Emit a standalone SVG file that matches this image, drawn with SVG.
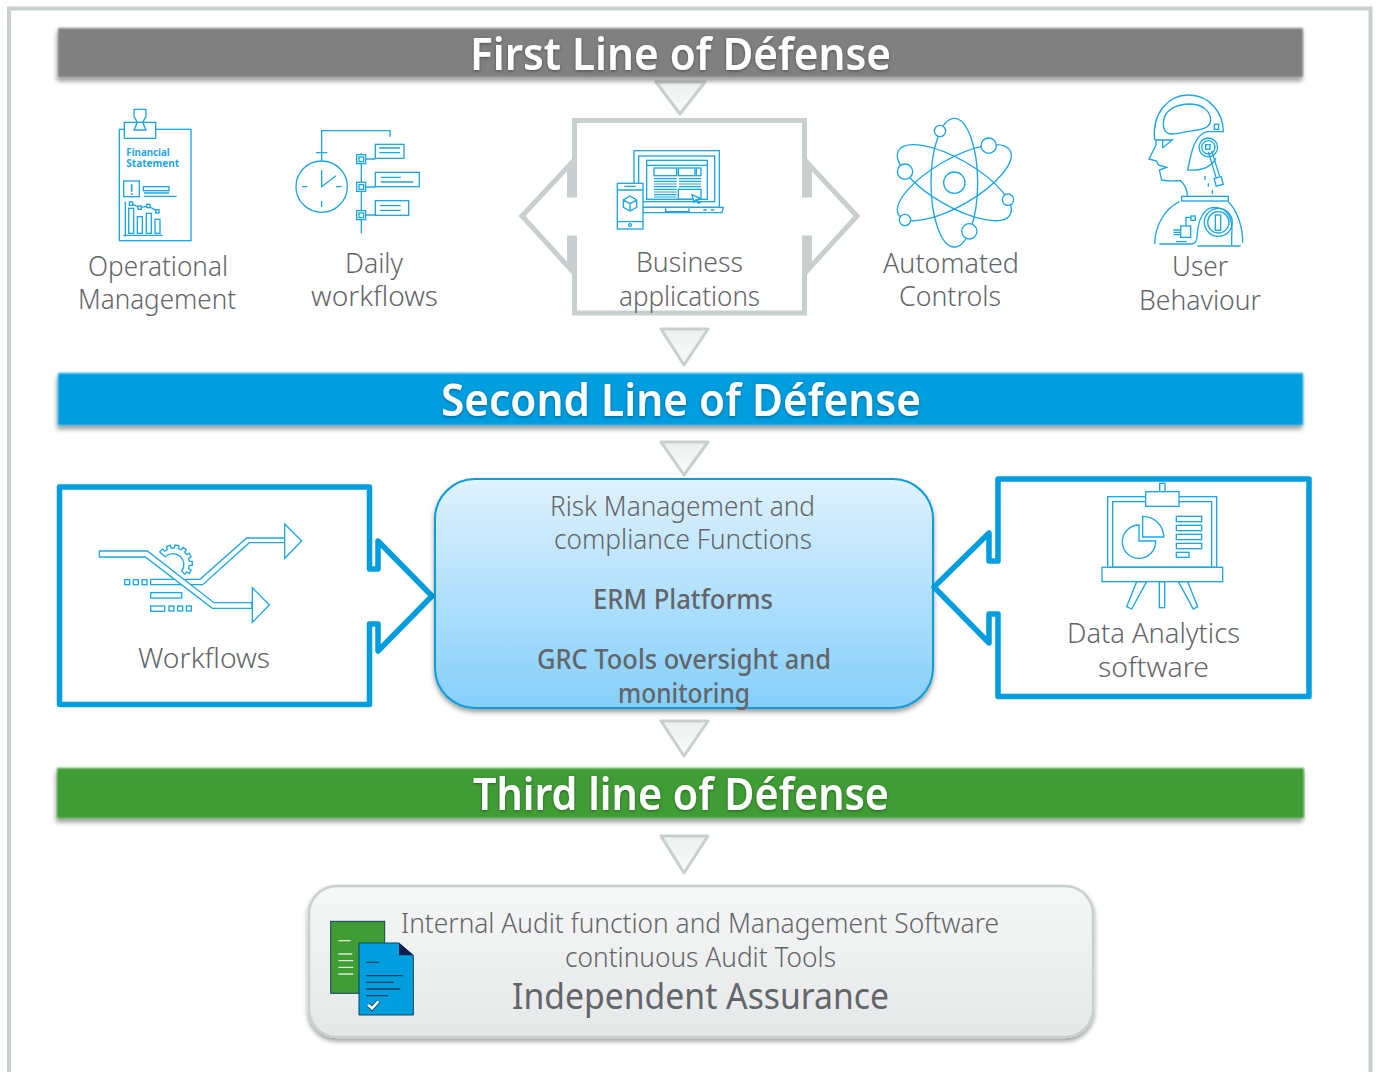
<svg xmlns="http://www.w3.org/2000/svg" width="1377" height="1072" viewBox="0 0 1377 1072">
<style>
text{font-family:"Noto Sans","Open Sans","Liberation Sans",sans-serif}
.lb{font-size:27px;font-weight:300;fill:#636569}
.lm{font-size:27px;font-weight:500;fill:#636569}
.tt{font-size:45px;font-weight:600;fill:#fff;filter:url(#ts)}
.bar{filter:url(#bs)}
.tri{fill:url(#tg);stroke:#c9cfcf;stroke-width:3;stroke-linejoin:round}
.ic{fill:none;stroke:#1ba6e4;stroke-width:4}
.icw{fill:#fff;stroke:#1ba6e4;stroke-width:4}
.bb{fill:#fff;stroke:#009ddf;stroke-width:5.500;stroke-linejoin:round}
</style>
<defs>
<filter id="sh" x="-5%" y="-30%" width="110%" height="160%"><feDropShadow dx="0" dy="3" stdDeviation="2.500" flood-color="#000" flood-opacity=".4"/></filter>
<filter id="bs" x="-3%" y="-30%" width="106%" height="170%">
<feGaussianBlur in="SourceAlpha" stdDeviation="2.500"/><feOffset dx="-1" dy="4" result="o"/>
<feFlood flood-color="#000" flood-opacity=".42"/><feComposite in2="o" operator="in" result="s"/>
<feGaussianBlur in="SourceGraphic" stdDeviation="1" result="b"/>
<feMerge><feMergeNode in="s"/><feMergeNode in="b"/></feMerge>
</filter>
<filter id="ts" x="-5%" y="-20%" width="110%" height="140%"><feDropShadow dx="0" dy="1" stdDeviation="1.500" flood-color="#000" flood-opacity=".4"/></filter>
<linearGradient id="tg" x1="0" y1="0" x2="0" y2="1"><stop offset="0" stop-color="#edf0f0"/><stop offset="1" stop-color="#fafbfb"/></linearGradient>
<linearGradient id="bg" x1="0" y1="0" x2="0" y2="1"><stop offset="0" stop-color="#dff2fe"/><stop offset="1" stop-color="#85cffb"/></linearGradient>
<linearGradient id="gg" x1="0" y1="0" x2="0" y2="1"><stop offset="0" stop-color="#f6f7f7"/><stop offset="1" stop-color="#e5e8e8"/></linearGradient>
</defs>
<rect width="1377" height="1072" fill="#fff"/>
<path d="M9,1072V8.500H1370.500V1072" fill="none" stroke="#c9cfcf" stroke-width="4"/>

<g id="connectors">
<path class="tri" d="M656,82H705L680,114Z"/>
<path class="tri" d="M661,329H708L684,365Z"/>
<path class="tri" d="M661,442H708L684,475Z"/>
<path class="tri" d="M661,721H708L684,756Z"/>
<path class="tri" d="M661,836H708L684,873Z"/>
</g>

<g id="first-line"><rect class="bar" x="58" y="28" width="1245" height="49" fill="#808080"/><text class="tt" x="470" y="70" textLength="421" lengthAdjust="spacingAndGlyphs">First Line of Défense</text></g>
<g id="second-line"><rect class="bar" x="58" y="373" width="1245" height="52" fill="#009ddf"/><text class="tt" x="441" y="416" textLength="480" lengthAdjust="spacingAndGlyphs">Second Line of Défense</text></g>
<g id="third-line"><rect class="bar" x="57" y="768" width="1247" height="50" fill="#409c34"/><text class="tt" x="473" y="810" textLength="416" lengthAdjust="spacingAndGlyphs">Third line of Défense</text></g>

<g id="operational-management">
<g transform="translate(60,90) scale(.33333)">
<rect class="ic" x="178" y="118" width="215" height="334"/>
<rect class="icw" x="193" y="97" width="94" height="48"/>
<path class="ic" d="M222,58H258V80L248,97L258,120H222L232,97L222,80Z"/>
<text x="199" y="198" font-size="30" font-weight="700" fill="#1ba6e4" textLength="130" lengthAdjust="spacingAndGlyphs">Financial</text>
<text x="199" y="232" font-size="30" font-weight="700" fill="#1ba6e4" textLength="158" lengthAdjust="spacingAndGlyphs">Statement</text>
<rect class="ic" x="191" y="273" width="47" height="47"/>
<path d="M215,283V305M215,309V314" fill="none" stroke="#1ba6e4" stroke-width="5"/>
<rect class="ic" x="250" y="290" width="77" height="12"/>
<path class="ic" d="M252,309H327M252,319H350M196,335V440M190,436H308"/>
<rect class="ic" x="206" y="355" width="15" height="75"/><rect class="ic" x="232" y="380" width="15" height="50"/><rect class="ic" x="259" y="370" width="15" height="60"/><rect class="ic" x="285" y="388" width="15" height="42"/>
<path class="ic" d="M213,341L239,353L265,348L292,364"/>
<rect class="icw" x="208" y="336" width="10" height="10"/><rect class="icw" x="234" y="348" width="10" height="10"/><rect class="icw" x="260" y="343" width="10" height="10"/><rect class="icw" x="287" y="359" width="10" height="10"/>
</g>
<text class="lb" x="88" y="276" textLength="140" lengthAdjust="spacingAndGlyphs">Operational</text>
<text class="lb" x="78" y="309" textLength="158" lengthAdjust="spacingAndGlyphs">Management</text>
</g>

<g id="daily-workflows">
<g transform="translate(60,90) scale(.33333)">
<path class="ic" d="M785,212V122H990V140M768,188H802"/>
<circle class="ic" cx="785" cy="290" r="77"/>
<path class="ic" d="M785,240V290L828,257M726,290H742M828,290H845M785,333V350M904,190V430M918,207H946M918,291H946M918,375H946"/>
<rect class="icw" x="890" y="194" width="27" height="27"/><rect class="ic" x="897" y="201" width="14" height="14"/>
<rect class="icw" x="890" y="277" width="27" height="27"/><rect class="ic" x="897" y="284" width="14" height="14"/>
<rect class="icw" x="890" y="362" width="27" height="27"/><rect class="ic" x="897" y="369" width="14" height="14"/>
<rect class="ic" x="946" y="163" width="86" height="42"/><path class="ic" d="M958,174H1020M958,188H1020"/>
<rect class="ic" x="946" y="247" width="132" height="43"/><path class="ic" d="M962,262H1022M962,276H1060"/>
<rect class="ic" x="946" y="332" width="100" height="44"/><path class="ic" d="M960,347H1022M960,361H1022"/>
</g>
<text class="lb" x="345" y="273" textLength="58" lengthAdjust="spacingAndGlyphs">Daily</text>
<text class="lb" x="311" y="306" textLength="127" lengthAdjust="spacingAndGlyphs">workflows</text>
</g>

<g id="business-applications">
<path d="M574.500,120.500H804.500V195H809.500V165L857,216L809.500,268V238H804.500V313H574.500V238H569.500V268L522,216L569.500,165V195H574.500Z" fill="#fff" stroke="#c9cfcf" stroke-width="5"/>
<g transform="translate(510,70) scale(.33333)">
<rect class="ic" x="372" y="242" width="256" height="170"/>
<rect class="ic" x="386" y="258" width="228" height="137"/>
<rect class="ic" x="410" y="271" width="182" height="117"/>
<path class="ic" d="M410,286H592"/>
<rect class="ic" x="432" y="294" width="68" height="23"/><rect class="ic" x="505" y="294" width="50" height="23"/><rect class="ic" x="559" y="294" width="14" height="23"/>
<path d="M432,326H500M432,334H500M432,342H500M432,350H500M432,358H500M432,366H500M432,374H500M432,381H500M507,326H573M507,334H573M507,342H573M507,350H573" fill="none" stroke="#1ba6e4" stroke-width="3.500"/>
<rect class="ic" x="505" y="358" width="68" height="30"/>
<path class="icw" d="M546,374L570,385L560,389L570,398L566,400L556,391L552,397Z"/>
<path class="icw" d="M398,412H640L636,428H398Z"/>
<path class="ic" d="M467,415V425H537V415M580,420H590M603,420H613"/>
<rect class="icw" x="322" y="340" width="77" height="137"/>
<path class="ic" d="M322,360H399M322,455H399M343,349H378"/>
<path class="ic" d="M360,378L380,390V412L360,423L340,412V390ZM340,390L360,401L380,390M360,401V423"/>
<circle class="ic" cx="360" cy="465" r="4"/>
</g>
<text class="lb" x="636" y="272" textLength="107" lengthAdjust="spacingAndGlyphs">Business</text>
<text class="lb" x="619" y="306" textLength="141" lengthAdjust="spacingAndGlyphs">applications</text>
</g>

<g id="automated-controls">
<g transform="translate(880,90) scale(.33333)">
<ellipse class="ic" cx="223" cy="278" rx="70" ry="193"/>
<ellipse class="ic" cx="223" cy="278" rx="70" ry="193" transform="rotate(60 223 278)"/>
<ellipse class="ic" cx="223" cy="278" rx="70" ry="193" transform="rotate(-60 223 278)"/>
<circle class="ic" cx="223" cy="278" r="32"/>
<circle class="icw" cx="180" cy="123" r="17"/><circle class="icw" cx="326" cy="167" r="23"/><circle class="icw" cx="75" cy="245" r="23"/><circle class="icw" cx="384" cy="329" r="17"/><circle class="icw" cx="75" cy="390" r="17"/><circle class="icw" cx="268" cy="424" r="23"/>
</g>
<text class="lb" x="883" y="273" textLength="136" lengthAdjust="spacingAndGlyphs">Automated</text>
<text class="lb" x="899" y="306" textLength="102" lengthAdjust="spacingAndGlyphs">Controls</text>
</g>

<g id="user-behaviour">
<g transform="translate(1140,90) scale(.33333)">
<path class="ic" d="M44,150C35,70 85,15 145,15C210,15 250,70 250,125H200C165,135 155,180 143,240C180,243 210,235 228,205"/>
<path class="ic" d="M70,100C70,60 110,42 150,42C195,43 212,70 212,90C212,120 170,120 140,125C105,132 70,145 70,100Z"/>
<rect class="ic" x="223" y="103" width="13" height="15"/>
<circle class="ic" cx="205" cy="172" r="28"/><circle class="ic" cx="205" cy="172" r="20"/><rect class="ic" x="197" y="164" width="13" height="14"/>
<path class="ic" d="M205,185L228,262M215,182L239,260"/>
<rect class="icw" x="225" y="262" width="22" height="24" transform="rotate(-15 236 274)"/>
<path class="ic" d="M48,150V165L27,207L50,213L55,225L80,232L58,240L65,270C90,275 110,272 122,272C135,285 142,300 142,318"/>
<path class="ic" d="M45,150H97L68,173V152M195,258V270M205,280V290M217,300V312"/>
<rect class="ic" x="125" y="319" width="140" height="14"/>
<path class="ic" d="M118,335C70,360 45,410 44,462M265,335C295,365 308,415 308,458M58,462H155C170,462 172,440 172,430C175,390 190,355 220,352M172,468H302M220,352C265,352 280,385 275,440V465"/>
<circle class="ic" cx="235" cy="397" r="42"/><circle class="ic" cx="235" cy="397" r="32"/><rect class="ic" x="226" y="375" width="16" height="46"/>
<rect class="ic" x="122" y="408" width="30" height="34"/><rect class="ic" x="153" y="378" width="13" height="13"/>
<path class="ic" d="M138,408V382H153M100,420H122M100,427H122M100,434H122M108,455H140"/>
</g>
<text class="lb" x="1172" y="276" textLength="56" lengthAdjust="spacingAndGlyphs">User</text>
<text class="lb" x="1139" y="310" textLength="122" lengthAdjust="spacingAndGlyphs">Behaviour</text>
</g>

<g id="workflows">
<path class="bb" d="M59.500,487H369.500V569H378V541L432,596L378,651V624H369.500V704.500H59.500Z"/>
<g transform="translate(50,480) scale(.33333)">
<path class="ic" d="M372,314H302V298H450L590,174H704M704,188H598L458,314H372"/>
<path class="icw" d="M148,213H292L492,368H606V385H487L286,231H148Z"/>
<path class="icw" d="M704,132L755,183L704,235Z"/>
<path class="icw" d="M607,323L658,375L607,427Z"/>
<path class="ic" d="M335.300,222.300L329.300,215.400L337.400,207.300L344.300,213.200L351.800,208.600L349.600,199.700L360.600,196.200L364,204.700L372.800,204L374.900,195.100L386.200,196.900L385.400,206L393.600,209.400L399.500,202.400L408.800,209.100L404,216.900L409.700,223.600L418.100,220L423.400,230.300L415.500,235L417.500,243.600L426.700,244.200L426.700,255.800L417.500,256.400L415.500,265L423.400,269.700L418.100,280L409.700,276.400L404,283.100L394.900,273.700A33,33 0 0 0 345.600,230.100Z"/>
<rect class="ic" x="224" y="299" width="15" height="15"/><rect class="ic" x="250" y="299" width="15" height="15"/><rect class="ic" x="276" y="299" width="15" height="15"/>
<rect class="ic" x="302" y="338" width="93" height="16"/>
<rect class="ic" x="302" y="378" width="42" height="16"/>
<rect class="ic" x="357" y="378" width="15" height="15"/><rect class="ic" x="383" y="378" width="15" height="15"/><rect class="ic" x="409" y="378" width="15" height="15"/>
</g>
<text class="lb" x="138" y="668" textLength="132" lengthAdjust="spacingAndGlyphs">Workflows</text>
</g>

<g id="risk-management">
<rect x="435" y="479" width="498" height="229" rx="40" fill="url(#bg)" stroke="#0b9bdc" stroke-width="2" filter="url(#sh)"/>
<text class="lb" x="550" y="516" textLength="265" lengthAdjust="spacingAndGlyphs">Risk Management and</text>
<text class="lb" x="554" y="549" textLength="258" lengthAdjust="spacingAndGlyphs">compliance Functions</text>
<text class="lm" x="593" y="609" textLength="180" lengthAdjust="spacingAndGlyphs">ERM Platforms</text>
<text class="lm" x="537" y="669" textLength="294" lengthAdjust="spacingAndGlyphs">GRC Tools oversight and</text>
<text class="lm" x="618" y="703" textLength="132" lengthAdjust="spacingAndGlyphs">monitoring</text>
</g>

<g id="data-analytics">
<path class="bb" d="M998,479H1309V696.500H998V614H989V643L934,587L989,533V561H998Z"/>
<g transform="translate(920,470) scale(.33333)">
<rect class="ic" x="563" y="80" width="327" height="212"/>
<rect class="ic" x="578" y="95" width="297" height="197"/>
<rect class="ic" x="719" y="40" width="16" height="25"/>
<rect class="icw" x="677" y="65" width="100" height="44"/>
<rect class="icw" x="546" y="292" width="362" height="43"/>
<rect class="ic" x="718" y="335" width="16" height="78"/>
<path class="ic" d="M650,335H680L635,417L620,410ZM775,335H803L833,410L820,417Z"/>
<path class="ic" d="M657,165A50,50 0 1 0 707,213H657Z"/>
<path class="ic" d="M668,139V201H731A62,62 0 0 0 668,139Z"/>
<rect class="ic" x="769" y="139" width="76" height="16"/><rect class="ic" x="769" y="166" width="76" height="16"/><rect class="ic" x="769" y="193" width="76" height="16"/><rect class="ic" x="769" y="220" width="76" height="16"/><rect class="ic" x="769" y="247" width="38" height="15"/>
</g>
<text class="lb" x="1067" y="643" textLength="173" lengthAdjust="spacingAndGlyphs">Data Analytics</text>
<text class="lb" x="1098" y="677" textLength="111" lengthAdjust="spacingAndGlyphs">software</text>
</g>

<g id="independent-assurance">
<rect x="309" y="886" width="784" height="151" rx="28" fill="url(#gg)" stroke="#c9cfcf" stroke-width="2.500" filter="url(#sh)"/>
<g transform="translate(300,830) scale(.33333)">
<rect x="92" y="274" width="162" height="216" fill="#409c34" stroke="#14415e" stroke-width="3"/>
<path d="M115,332H152M115,372H157M115,392H160M115,412H160M115,432H160" stroke="#d5ead0" stroke-width="4" fill="none"/>
<path d="M177,339H297L340,376V555H177Z" fill="#009ddf" stroke="#14415e" stroke-width="3"/>
<path d="M297,339L340,376H297Z" fill="#0a1f4d"/>
<path d="M198,397H237M198,437H309M198,457H282M198,477H301M198,497H265" stroke="#14415e" stroke-width="4" fill="none"/>
<path d="M204,524L216,535L235,514" fill="none" stroke="#14415e" stroke-width="13"/>
<path d="M204,524L216,535L235,514" fill="none" stroke="#fff" stroke-width="8"/>
</g>
<text class="lb" x="401" y="933" textLength="598" lengthAdjust="spacingAndGlyphs">Internal Audit function and Management Software</text>
<text class="lb" x="565" y="967" textLength="271" lengthAdjust="spacingAndGlyphs">continuous Audit Tools</text>
<text x="512" y="1009" font-size="36" font-weight="400" fill="#636569" textLength="377" lengthAdjust="spacingAndGlyphs">Independent Assurance</text>
</g>
</svg>
